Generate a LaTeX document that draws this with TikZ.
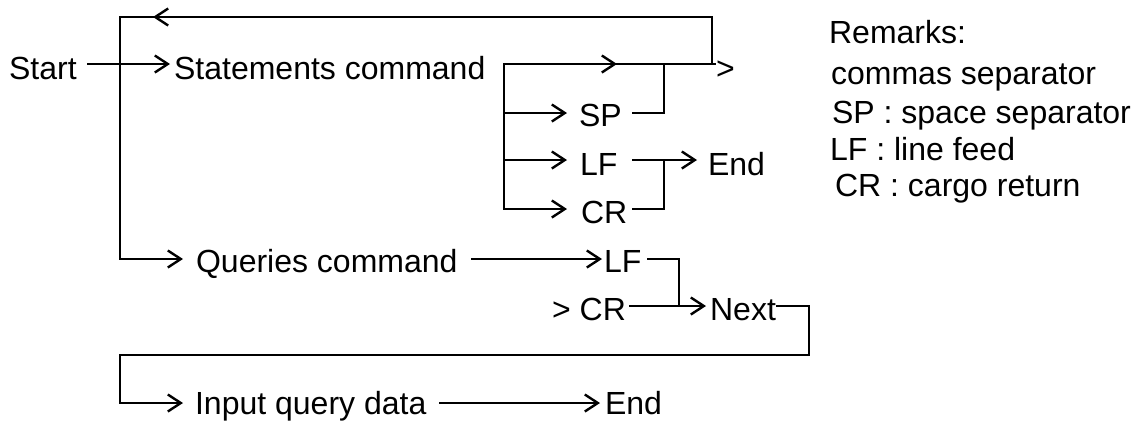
\documentclass[tikz,border=0pt]{standalone}
\usepackage{fontspec}
\setmainfont{Liberation Sans}
\usetikzlibrary{arrows.meta}
\begin{document}
\begin{tikzpicture}[x=1pt,y=-1pt,line width=2.2pt,line cap=rect,
  lbl/.style={inner sep=0pt,anchor=base west,font=\fontsize{32}{38}\selectfont},
  chev/.style={-{Straight Barb[length=13pt,width=17pt,line width=2.4pt]}}]
\useasboundingbox (0,0) rectangle (1140,424);
% text nodes
\node[lbl] (start) at (8,79) {Start};
\node[lbl] (stmt) at (173,79) {Statements command};
\node[lbl] (sp) at (578,126) {SP};
\node[lbl] (lf1) at (579,175) {LF};
\node[lbl] (cr1) at (580,223) {CR};
\node[lbl] (end1) at (707,175) {End};
\node[lbl] (tail) at (715,79) {>};
\node[lbl] (qry) at (195,272) {Queries command};
\node[lbl] (lf2) at (603,272) {LF};
\node[lbl] (cr2) at (551,320) {> CR};
\node[lbl] (next) at (709,320) {Next};
\node[lbl] (inp) at (194,414) {Input query data};
\node[lbl] (end2) at (604,414) {End};
% remarks
\node[lbl] (rem) at (828,43) {Remarks:};
\node[lbl] (r1) at (830,84) {commas separator};
\node[lbl] (r2) at (831,123) {SP : space separator};
\node[lbl] (r3) at (829,160) {LF : line feed};
\node[lbl] (r4) at (834,196) {CR : cargo return};
% coordinates
\coordinate (s-o) at (88,64);
\coordinate (s-i) at (170,64);
\coordinate (bar-t) at (504,64);
\coordinate (bar-b) at (504,209);
\coordinate (c1) at (617,64);
\coordinate (j1) at (664,64);
\coordinate (j2) at (712,64);
\coordinate (stub) at (715,64);
\coordinate (top-r) at (712,17);
\coordinate (lt) at (153,17);
\coordinate (top-l) at (120,17);
\coordinate (q-c) at (120,259);
\coordinate (q-i) at (183,259);
\coordinate (b-sp) at (504,113);
\coordinate (sp-i) at (567,113);
\coordinate (b-lf) at (504,160);
\coordinate (lf-i) at (567,160);
\coordinate (cr-i) at (567,209);
\coordinate (sp-o) at (633,113);
\coordinate (sp-j) at (664,113);
\coordinate (lf-o) at (633,160);
\coordinate (lf-t) at (697,160);
\coordinate (lf-j) at (664,160);
\coordinate (cr-o) at (633,209);
\coordinate (cr-j) at (664,209);
\coordinate (q-o) at (472,259);
\coordinate (q-t) at (602,259);
\coordinate (lf2-o) at (648,259);
\coordinate (lf2-j) at (679,259);
\coordinate (nx-j) at (679,306);
\coordinate (cr2-o) at (630,306);
\coordinate (nx-t) at (706,306);
\coordinate (nx-o) at (777,306);
\coordinate (lp-r1) at (809,306);
\coordinate (lp-r2) at (809,355);
\coordinate (lp-l1) at (120,355);
\coordinate (lp-l2) at (120,403);
\coordinate (in-t) at (183,403);
\coordinate (in-o) at (440,403);
\coordinate (end2-t) at (600,403);
% connectors
\draw[chev] (s-o) -- (s-i);
\draw[chev] (bar-t) -- (c1);
\draw[chev] (bar-t) -- (bar-b) -- (cr-i);
\draw (c1) -- (stub);
\draw[chev] (j2) -- (top-r) -- (lt);
\draw[chev] (lt) -- (top-l) -- (q-c) -- (q-i);
\draw[chev] (b-sp) -- (sp-i);
\draw[chev] (b-lf) -- (lf-i);
\draw (sp-o) -- (sp-j) -- (j1);
\draw[chev] (lf-o) -- (lf-t);
\draw (cr-o) -- (cr-j) -- (lf-j);
\draw[chev] (q-o) -- (q-t);
\draw (lf2-o) -- (lf2-j) -- (nx-j);
\draw[chev] (cr2-o) -- (nx-t);
\draw[chev] (nx-o) -- (lp-r1) -- (lp-r2) -- (lp-l1) -- (lp-l2) -- (in-t);
\draw[chev] (in-o) -- (end2-t);
\end{tikzpicture}
\end{document}
